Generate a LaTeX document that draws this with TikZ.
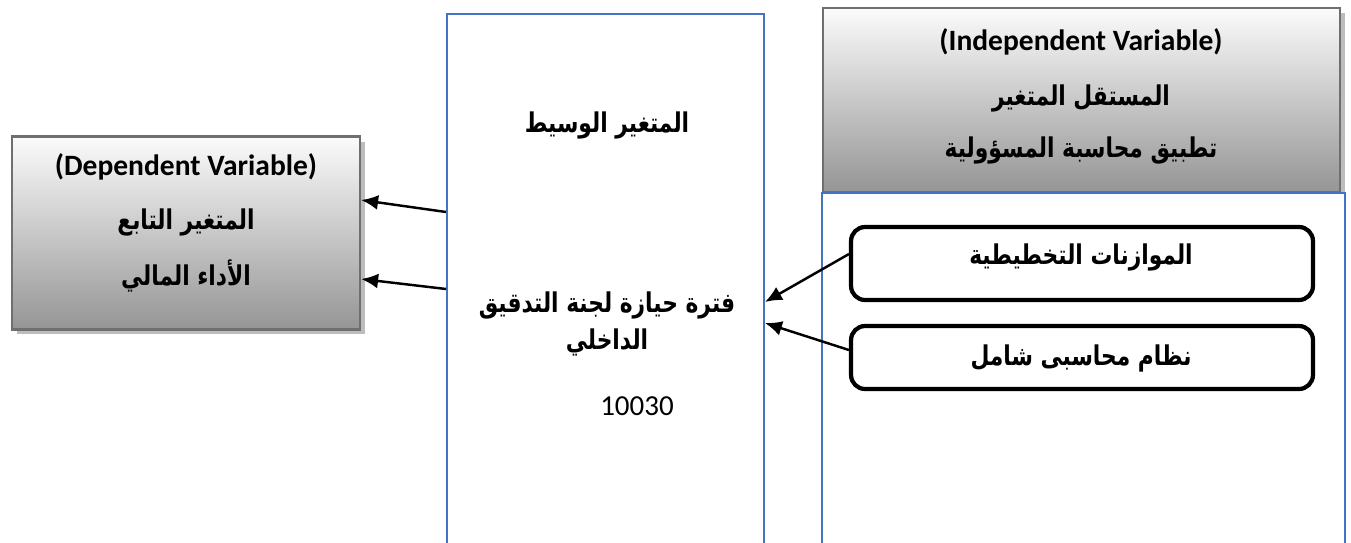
\documentclass[tikz,border=0pt]{standalone}
\usepackage{fontspec}
\usetikzlibrary{arrows.meta,shadows}
\TeXXeTstate=1
\newfontfamily\arabicfont[Script=Arabic]{DejaVu Sans}
\newfontfamily\calibri{Carlito}
\newcommand{\artxt}[1]{\scalebox{1}[1.25]{\beginR #1\endR}}
\definecolor{wordblue}{HTML}{4472C4}
\definecolor{boxborder}{HTML}{6F6F6F}
\definecolor{shadetop}{HTML}{FBFBFB}
\definecolor{shadebot}{HTML}{959595}
\definecolor{shadowgray}{HTML}{BDBDBD}
\tikzset{
  graybox/.style={draw=boxborder, line width=1.3pt, top color=shadetop, bottom color=shadebot,
    drop shadow={shadow xshift=0.1cm, shadow yshift=-0.1cm, fill=shadowgray, opacity=1}},
  bluebox/.style={draw=wordblue, line width=1.1pt, fill=white},
  roundbox/.style={draw=black, line width=2.4pt, rounded corners=0.28cm, fill=white},
  ar/.style={font=\arabicfont\bfseries\fontsize{12.4}{15}\selectfont, inner sep=0pt},
  en/.style={font=\calibri\bfseries\fontsize{16.8}{20}\selectfont, inner sep=0pt},
  arr/.style={-{Latex[length=0.34cm,width=0.3cm]}, line width=1.4pt, draw=black},
}
\begin{document}
\begin{tikzpicture}[x=0.02cm,y=-0.02cm]
\useasboundingbox (0,0) rectangle (1351,542);
\clip (0,0) rectangle (1351,542);

% left dependent box
\node[graybox, minimum width=6.96cm, minimum height=3.86cm] (dep) at (186,233) {};
\node[en] (depEn) at (186,167) {(Dependent Variable)};
\node[ar] (depA) at (186,222) {\artxt{المتغير التابع}};
\node[ar] (depB) at (186,276) {\artxt{الأداء المالي}};

% middle mediator box
\node[bluebox, minimum width=6.34cm, minimum height=10.96cm] (mid) at (605.5,288) {};
\node[ar] (midA) at (607,125) {\artxt{المتغير الوسيط}};
\node[ar] (midB) at (607,305) {\artxt{فترة حيازة لجنة التدقيق}};
\node[ar] (midC) at (607,342) {\artxt{الداخلي}};
\node[font=\calibri\fontsize{16.5}{19}\selectfont, inner sep=0pt] (num) at (637,406) {10030};

% right independent box
\node[graybox, minimum width=10.34cm, minimum height=3.68cm] (ind) at (1081.5,100) {};
\node[en] (indEn) at (1081,42) {(Independent Variable)};
\node[ar] (indA) at (1081,98) {\artxt{المستقل المتغير}};
\node[ar] (indB) at (1081,150) {\artxt{تطبيق محاسبة المسؤولية}};

\node[bluebox, minimum width=10.46cm, minimum height=7.38cm] (outer) at (1083.5,377.5) {};

\node[roundbox, minimum width=9.24cm, minimum height=1.46cm] (b1) at (1082,263.5) {};
\node[ar] (b1t) at (1081,257) {\artxt{الموازنات التخطيطية}};
\node[roundbox, minimum width=9.24cm, minimum height=1.26cm] (b2) at (1082,357.5) {};
\node[ar] (b2t) at (1081,358) {\artxt{نظام محاسبى شامل}};

% connectors
\draw[arr] (mid.west |- 0,212) -- (dep.east |- 0,200);
\draw[arr] (mid.west |- 0,289) -- (dep.east |- 0,279);
\draw[arr] (b1.west |- 0,254) -- (mid.east |- 0,302);
\draw[arr] (b2.west |- 0,350) -- (mid.east |- 0,323);
\end{tikzpicture}
\end{document}
